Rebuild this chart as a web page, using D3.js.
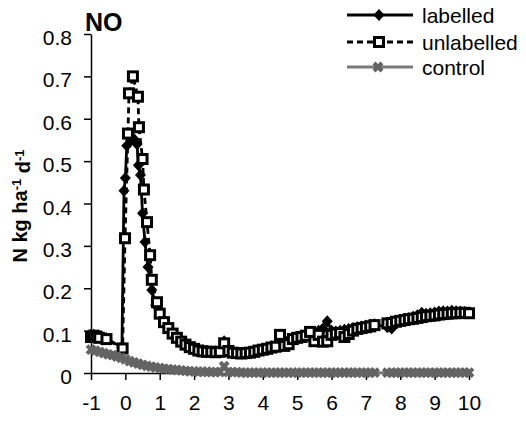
<!DOCTYPE html>
<html>
<head>
<meta charset="utf-8">
<script src="https://cdn.jsdelivr.net/npm/d3@7"></script>
<style>
  body { margin: 0; background: #fff; }
  svg { display: block; }
  text { font-family: "Liberation Sans", Arial, sans-serif; fill: #000; }
</style>
</head>
<body>
<svg id="chart" width="526" height="421"></svg>
<script>
// Axis ticks
const xTickValues = [-1, 0, 1, 2, 3, 4, 5, 6, 7, 8, 9, 10];
const xTickLabels = ["-1", "0", "1", "2", "3", "4", "5", "6", "7", "8", "9", "10"];
const yTickValues = [0, 0.1, 0.2, 0.3, 0.4, 0.5, 0.6, 0.7, 0.8];
const yTickLabels = ["0", "0.1", "0.2", "0.3", "0.4", "0.5", "0.6", "0.7", "0.8"];

// Series names
const seriesNames = ["labelled", "unlabelled", "control"];

// Days around fertilisation (irregular sampling) and NO flux, N kg ha-1 d-1
const earlyDaysLabelled = [-1.0, -0.92, -0.84, -0.76, -0.55, -0.1, -0.04, 0.0, 0.04, 0.15, 0.25, 0.34, 0.38, 0.44, 0.5, 0.57, 0.66, 0.77, 0.88];
const earlyNOLabelled   = [0.090, 0.090, 0.088, 0.086, 0.082, 0.060, 0.430, 0.460, 0.536, 0.550, 0.552, 0.540, 0.490, 0.467, 0.377, 0.309, 0.250, 0.196, 0.160];

const earlyDaysUnlabelled = [-1.0, -0.92, -0.84, -0.76, -0.55, -0.08, -0.01, 0.076, 0.105, 0.22, 0.366, 0.395, 0.5, 0.54, 0.63, 0.72, 0.77, 0.92];
const earlyNOUnlabelled   = [0.085, 0.088, 0.086, 0.083, 0.080, 0.058, 0.318, 0.565, 0.660, 0.700, 0.652, 0.580, 0.505, 0.433, 0.356, 0.278, 0.220, 0.167];

const earlyDaysControl = [-1, -0.875, -0.75, -0.625, -0.5, -0.375, -0.25, -0.125, 0, 0.125, 0.25, 0.375, 0.5, 0.625, 0.75, 0.875];
const earlyNOControl   = [0.055, 0.053, 0.050, 0.047, 0.044, 0.042, 0.039, 0.036, 0.032, 0.028, 0.025, 0.022, 0.019, 0.017, 0.015, 0.013];

// Regular 3-hourly sampling from day 1 onwards (shared by all chambers)
const lateDays = [
  1, 1.125, 1.25, 1.375, 1.5, 1.625, 1.75, 1.875,
  2, 2.125, 2.25, 2.375, 2.5, 2.625, 2.75, 2.875,
  3, 3.125, 3.25, 3.375, 3.5, 3.625, 3.75, 3.875,
  4, 4.125, 4.25, 4.375, 4.5, 4.625, 4.75, 4.875,
  5, 5.125, 5.25, 5.375, 5.5, 5.625, 5.75, 5.875,
  6, 6.125, 6.25, 6.375, 6.5, 6.625, 6.75, 6.875,
  7, 7.125, 7.25, 7.625, 7.75, 7.875,
  8, 8.125, 8.25, 8.375, 8.5, 8.625, 8.75, 8.875,
  9, 9.125, 9.25, 9.375, 9.5, 9.625, 9.75, 9.875,
  10
];
const lateNOLabelled = [
  0.142, 0.124, 0.109, 0.096, 0.085, 0.076, 0.069, 0.063,
  0.058, 0.055, 0.053, 0.052, 0.051, 0.051, 0.053, 0.075,
  0.055, 0.050, 0.048, 0.047, 0.048, 0.050, 0.052, 0.055,
  0.058, 0.060, 0.063, 0.066, 0.070, 0.074, 0.078, 0.082,
  0.085, 0.088, 0.090, 0.092, 0.095, 0.100, 0.105, 0.122,
  0.100, 0.098, 0.100, 0.102, 0.104, 0.106, 0.108, 0.110,
  0.112, 0.113, 0.115, 0.108, 0.105, 0.118,
  0.124, 0.128, 0.130, 0.133, 0.136, 0.142, 0.140, 0.141,
  0.143, 0.145, 0.146, 0.145, 0.147, 0.146, 0.145, 0.144,
  0.143
];
const lateNOUnlabelled = [
  0.140, 0.120, 0.106, 0.093, 0.083, 0.074, 0.067, 0.061,
  0.057, 0.053, 0.051, 0.050, 0.050, 0.049, 0.050, 0.070,
  0.052, 0.048, 0.047, 0.046, 0.047, 0.048, 0.050, 0.053,
  0.055, 0.057, 0.060, 0.062, 0.090, 0.064, 0.068, 0.080,
  0.083, 0.085, 0.088, 0.097, 0.075, 0.090, 0.074, 0.075,
  0.090, 0.093, 0.094, 0.085, 0.092, 0.100, 0.104, 0.106,
  0.108, 0.110, 0.113, 0.117, 0.118, 0.121,
  0.123, 0.125, 0.127, 0.128, 0.130, 0.132, 0.134, 0.135,
  0.136, 0.138, 0.139, 0.140, 0.141, 0.141, 0.142, 0.142,
  0.141
];
const lateNOControl = [
  0.012, 0.010, 0.009, 0.008, 0.007, 0.006, 0.005, 0.004,
  0.004, 0.003, 0.003, 0.003, 0.002, 0.002, 0.002, 0.016,
  0.002, 0.002, 0.002, 0.001, 0.001, 0.001, 0.001, 0.001,
  0.001, 0.001, 0.001, 0.001, 0.001, 0.001, 0.001, 0.001,
  0.001, 0.001, 0.001, 0.001, 0.001, 0.001, 0.001, 0.001,
  0.001, 0.001, 0.001, 0.001, 0.001, 0.001, 0.001, 0.001,
  0.001, 0.001, 0.001, 0.001, 0.001, 0.001,
  0.001, 0.001, 0.001, 0.001, 0.001, 0.001, 0.001, 0.001,
  0.001, 0.001, 0.001, 0.001, 0.001, 0.001, 0.001, 0.001,
  0.001
];

// ---- build point lists ----
const toPoints = (days, vals) => days.map((d, i) => ({ day: d, no: vals[i] }));
const labelled   = toPoints(earlyDaysLabelled.concat(lateDays),   earlyNOLabelled.concat(lateNOLabelled));
const unlabelled = toPoints(earlyDaysUnlabelled.concat(lateDays), earlyNOUnlabelled.concat(lateNOUnlabelled));
const control    = toPoints(earlyDaysControl.concat(lateDays),    earlyNOControl.concat(lateNOControl));

const svg = d3.select("#chart");

const x = d3.scaleLinear().domain([-1, 10]).range([91, 469]);
const y = d3.scaleLinear().domain([0, 0.8]).range([373, 34]);

const grey = "#646464";
const greyLine = "#7a7a7a";

// ---- axes ----
const yAxis = d3.axisLeft(y)
  .tickValues(yTickValues)
  .tickFormat((d, i) => yTickLabels[i])
  .tickSizeInner(7).tickSizeOuter(0).tickPadding(12);
const gy = svg.append("g").attr("transform", `translate(${x(-1)},0)`).call(yAxis);

const xAxis = d3.axisBottom(x)
  .tickValues(xTickValues)
  .tickFormat((d, i) => xTickLabels[i])
  .tickSizeInner(7).tickSizeOuter(0).tickPadding(15);
const gx = svg.append("g").attr("transform", `translate(0,${y(0)})`).call(xAxis);

[gx, gy].forEach(g => {
  g.select(".domain").attr("stroke", "#000").attr("stroke-width", 1.5);
  g.selectAll(".tick line").attr("stroke", "#000").attr("stroke-width", 1.5);
  g.selectAll(".tick text")
    .style("font-family", '"Liberation Sans", Arial, sans-serif')
    .style("font-size", "21px").attr("fill", "#000");
});
gy.selectAll(".tick text").attr("dy", "0.5em");

// ---- title and axis label ----
svg.append("text")
  .attr("x", 85).attr("y", 31)
  .style("font-size", "25px").style("font-weight", "bold")
  .text("NO");

const yl = svg.append("text")
  .attr("transform", "translate(27,206) rotate(-90)")
  .attr("text-anchor", "middle")
  .style("font-size", "20px").style("font-weight", "bold");
yl.append("tspan").text("N kg ha");
yl.append("tspan").attr("dy", "-0.45em").style("font-size", "13px").text("-1");
yl.append("tspan").attr("dy", "0.45em").text(" d");
yl.append("tspan").attr("dy", "-0.45em").style("font-size", "13px").text("-1");

// ---- marker shapes ----
const diamondPath = "M0,-6L5.5,0L0,6L-5.5,0Z";
const crossPath = "M-4,-4L4,4M-4,4L4,-4";

function drawDiamond(g, px, py) {
  g.append("path").attr("d", diamondPath).attr("transform", `translate(${px},${py})`).attr("fill", "#000");
}
function drawSquare(g, px, py) {
  g.append("rect").attr("x", px - 4.5).attr("y", py - 4.5).attr("width", 9).attr("height", 9)
    .attr("fill", "#fff").attr("stroke", "#000").attr("stroke-width", 3);
}
function drawCross(g, px, py) {
  g.append("path").attr("d", crossPath).attr("transform", `translate(${px},${py})`)
    .attr("stroke", grey).attr("stroke-width", 4).attr("fill", "none");
}

const line = d3.line().x(d => x(d.day)).y(d => y(d.no));

// ---- labelled ----
const gL = svg.append("g");
gL.append("path").datum(labelled).attr("d", line)
  .attr("fill", "none").attr("stroke", "#000").attr("stroke-width", 2.8);
labelled.forEach(d => drawDiamond(gL, x(d.day), y(d.no)));

// ---- unlabelled ----
const gU = svg.append("g");
gU.append("path").datum(unlabelled).attr("d", line)
  .attr("fill", "none").attr("stroke", "#000").attr("stroke-width", 2.8)
  .attr("stroke-dasharray", "6,4");
unlabelled.forEach(d => drawSquare(gU, x(d.day), y(d.no)));

// ---- control ----
const gC = svg.append("g");
gC.append("path").datum(control).attr("d", line)
  .attr("fill", "none").attr("stroke", greyLine).attr("stroke-width", 2.8);
control.forEach(d => drawCross(gC, x(d.day), y(d.no)));

// ---- legend ----
const legend = svg.append("g");
const legendRows = [15, 42, 67];
seriesNames.forEach((name, i) => {
  const ly = legendRows[i];
  const ln = legend.append("line")
    .attr("x1", 347).attr("x2", 413).attr("y1", ly).attr("y2", ly)
    .attr("stroke-width", 2.8);
  if (i === 0) { ln.attr("stroke", "#000"); drawDiamond(legend, 379, ly); }
  if (i === 1) { ln.attr("stroke", "#000").attr("stroke-dasharray", "6,4"); drawSquare(legend, 379, ly); }
  if (i === 2) { ln.attr("stroke", greyLine); drawCross(legend, 378, ly); }
  legend.append("text").attr("x", 422).attr("y", ly).attr("dy", "0.36em")
    .style("font-size", "21px").text(name);
});
</script>
</body>
</html>
